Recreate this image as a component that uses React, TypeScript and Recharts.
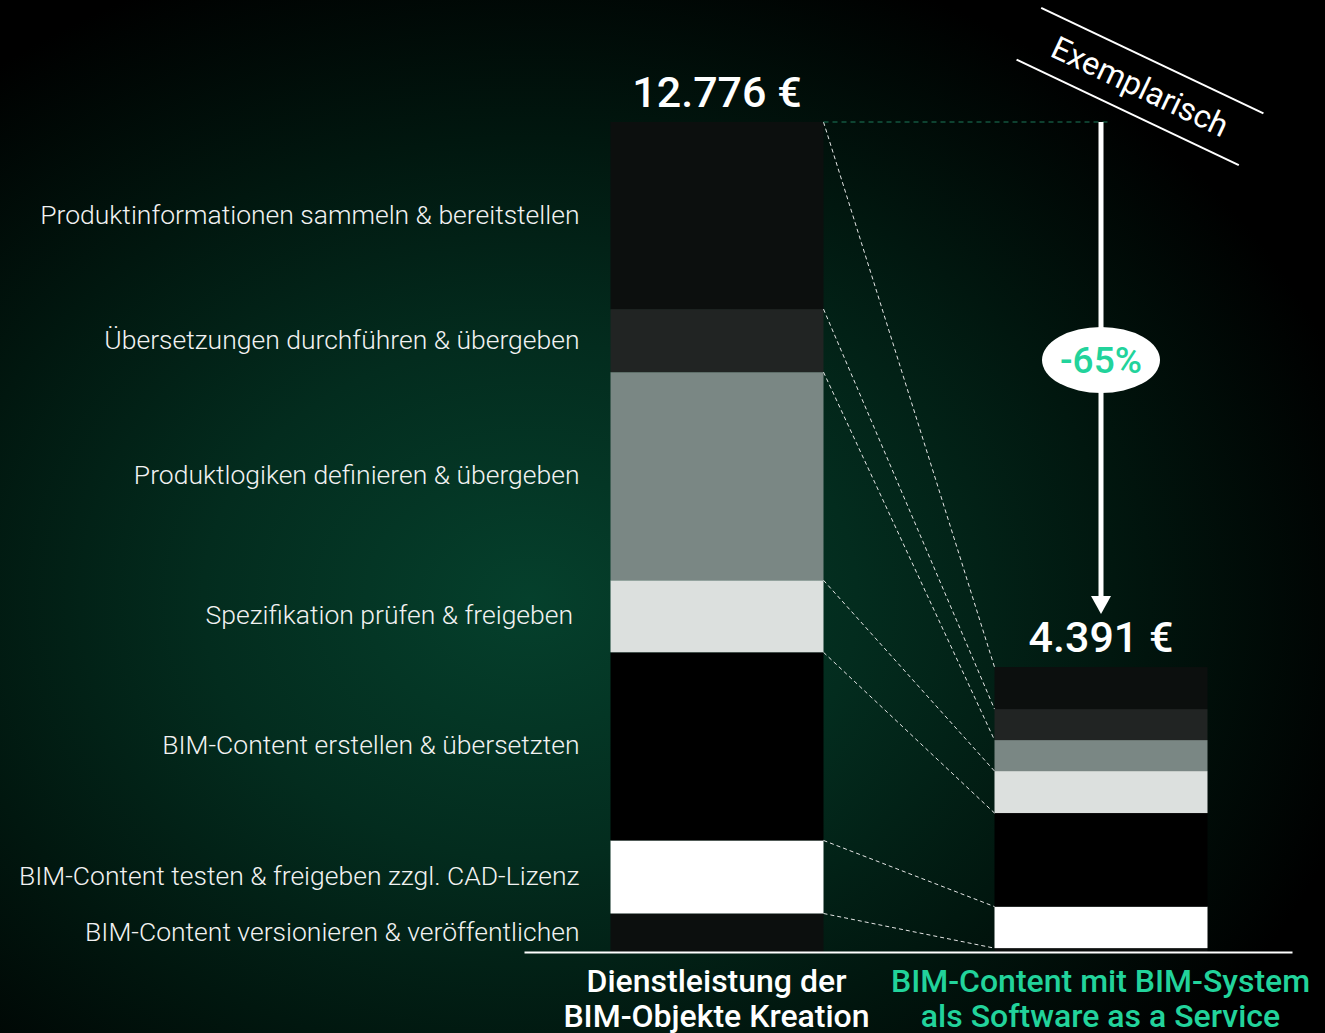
import React, { useEffect, useState } from 'react';
import { BarChart, Bar, XAxis, YAxis } from 'recharts';

const categories = ['Dienstleistung der\nBIM-Objekte Kreation', 'BIM-Content mit BIM-System\nals Software as a Service'];
// stack order: bottom -> top
const steps = [
  'BIM-Content versionieren & veröffentlichen',
  'BIM-Content testen & freigeben zzgl. CAD-Lizenz',
  'BIM-Content erstellen & übersetzten',
  'Spezifikation prüfen & freigeben\u00A0',
  'Produktlogiken definieren & übergeben',
  'Übersetzungen durchführen & übergeben',
  'Produktinformationen sammeln & bereitstellen',
];
const dienstleistung = [600, 1124, 2894, 1108, 3202, 970, 2878];
const saas = [67, 639, 1439, 646, 477, 477, 646];
const totals = [12776, 4391];
const reductionLabel = '-65%';
const stampLabel = 'Exemplarisch';

const colors = ['#0c0f0e', '#ffffff', '#000000', '#dce0de', '#7a8784', '#212423', '#0c0f0e'];
const GREEN = '#22d39b';
const FONT = 'Roboto, "Noto Sans", sans-serif';

const series = [dienstleistung, saas];
const data = categories.map((name, ci) => {
  const row: Record<string, any> = { name };
  steps.forEach((_, si) => {
    row[`s${si}`] = series[ci][si];
  });
  return row;
});

const fmt = (v: number) => String(v).replace(/\B(?=(\d{3})+(?!\d))/g, '.') + ' €';

type Box = { x: number; y: number; width: number; height: number };
const boxes: Record<string, Box> = {};
let notify: (() => void) | null = null;

function makeShape(si: number) {
  return (props: any) => {
    const { x, y, width, height, payload } = props;
    const ci = categories.indexOf(payload?.name);
    const key = `${si}-${ci}`;
    const prev = boxes[key];
    if (!prev || prev.x !== x || prev.y !== y || prev.width !== width || prev.height !== height) {
      boxes[key] = { x, y, width, height };
      setTimeout(() => notify && notify(), 0);
    }
    return (
      <g>
        <rect x={x} y={y} width={width} height={height} fill={colors[si]} />
        {ci === 0 && (
          <text
            x={x - 31}
            y={y + height / 2 - 1.5}
            textAnchor="end"
            dominantBaseline="central"
            fontFamily={FONT}
            fontWeight={300}
            fontSize={26.5}
            fill="#f2f2f2"
          >
            {steps[si]}
          </text>
        )}
        {si === steps.length - 1 && (
          <text
            x={x + width / 2}
            y={y - 15}
            textAnchor="middle"
            fontFamily={FONT}
            fontWeight={500}
            fontSize={43}
            fill="#ffffff"
          >
            {fmt(totals[ci])}
          </text>
        )}
      </g>
    );
  };
}

const CategoryTick = (props: any) => {
  const { x, y, payload, index } = props;
  const lines = String(payload.value).split('\n');
  return (
    <text
      x={x}
      y={y}
      textAnchor="middle"
      fontFamily={FONT}
      fontWeight={500}
      fontSize={32}
      fill={index === 0 ? '#ffffff' : GREEN}
    >
      {lines.map((l, i) => (
        <tspan key={i} x={x} dy={i === 0 ? 37 : 35}>
          {l}
        </tspan>
      ))}
    </text>
  );
};

function Overlay() {
  const top = steps.length - 1;
  const L = boxes[`${top}-0`];
  const R = boxes[`${top}-1`];
  if (!L || !R) return null;
  const cx = R.x + R.width / 2;
  const topY = L.y;
  const tipY = R.y - 53;
  const midY = (topY + tipY) / 2 - 8;
  return (
    <svg
      width={1325}
      height={1033}
      style={{ position: 'absolute', left: 0, top: 0, pointerEvents: 'none' }}
    >
      {steps.map((_, si) => {
        const a = boxes[`${si}-0`];
        const b = boxes[`${si}-1`];
        if (!a || !b) return null;
        return (
          <line
            key={si}
            x1={a.x + a.width}
            y1={a.y}
            x2={b.x}
            y2={b.y}
            stroke="#e6e6e6"
            strokeWidth={1}
            strokeDasharray="4 3"
          />
        );
      })}
      <line x1={L.x + L.width} y1={topY} x2={cx + 8} y2={topY} stroke="#1d7a5a" strokeWidth={1} strokeDasharray="5 4" />
      <line x1={cx} y1={topY} x2={cx} y2={tipY - 14} stroke="#ffffff" strokeWidth={5} />
      <polygon points={`${cx - 10},${tipY - 18} ${cx + 10},${tipY - 18} ${cx},${tipY}`} fill="#ffffff" />
      <ellipse cx={cx} cy={midY} rx={59} ry={33} fill="#ffffff" />
      <text
        x={cx}
        y={midY}
        textAnchor="middle"
        dominantBaseline="central"
        fontFamily={FONT}
        fontWeight={500}
        fontSize={37}
        fill={GREEN}
      >
        {reductionLabel}
      </text>
      <g transform="translate(1140, 86.5) rotate(25.4)">
        <line x1={-123} y1={-28.7} x2={123} y2={-28.7} stroke="#ffffff" strokeWidth={2} />
        <line x1={-123} y1={28.7} x2={123} y2={28.7} stroke="#ffffff" strokeWidth={2} />
        <text
          x={0}
          y={0}
          textAnchor="middle"
          dominantBaseline="central"
          fontFamily={FONT}
          fontWeight={400}
          fontSize={32}
          fill="#ffffff"
        >
          {stampLabel}
        </text>
      </g>
    </svg>
  );
}

export default function App() {
  const [, setTick] = useState(0);
  useEffect(() => {
    notify = () => setTick((t) => t + 1);
    setTick((t) => t + 1);
    return () => {
      notify = null;
    };
  }, []);

  return (
    <div
      style={{
        position: 'absolute',
        left: 0,
        top: 0,
        width: 1325,
        height: 1033,
        overflow: 'hidden',
        background:
          'radial-gradient(ellipse 860px 680px at 530px 600px, #05402c 0%, #032c1e 38%, #01170f 68%, #000000 100%)',
      }}
    >
      <BarChart
        width={1325}
        height={1033}
        data={data}
        margin={{ top: 122, right: 32.5, bottom: 0, left: 524.5 }}
        barSize={213}
      >
        <XAxis
          dataKey="name"
          height={80.5}
          axisLine={{ stroke: '#ffffff', strokeWidth: 2 }}
          tickLine={false}
          tickSize={0}
          tick={<CategoryTick />}
          interval={0}
        />
        <YAxis hide domain={[0, totals[0]]} />
        {steps.map((_, si) => (
          <Bar
            key={si}
            dataKey={`s${si}`}
            stackId="a"
            isAnimationActive={false}
            shape={makeShape(si)}
          />
        ))}
      </BarChart>
      <Overlay />
    </div>
  );
}
